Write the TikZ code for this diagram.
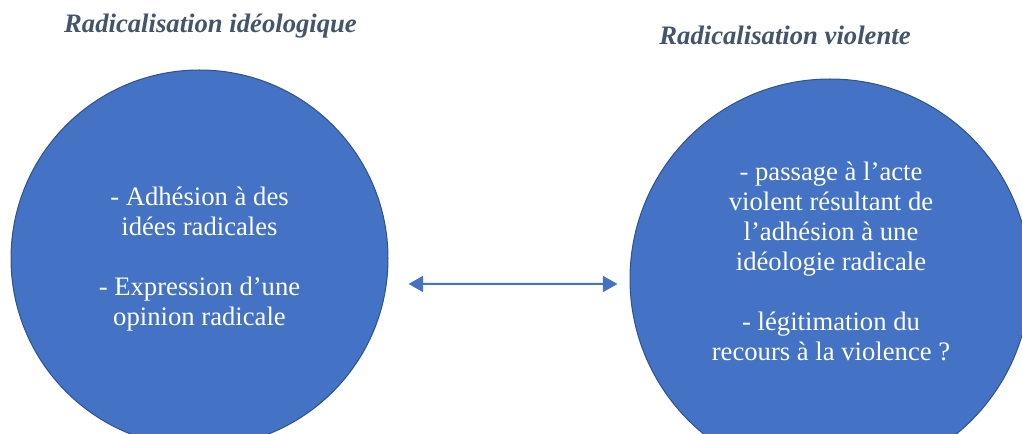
\documentclass[tikz,border=0pt]{standalone}
\usepackage{fontspec}
\setmainfont{Liberation Serif}
\usetikzlibrary{arrows.meta}
\definecolor{circblue}{HTML}{4472C4}
\definecolor{circedge}{HTML}{2F528F}
\definecolor{titlegray}{HTML}{44546A}
\tikzset{
  bubble/.style={circle, fill=circblue, draw=circedge, line width=0.75pt, inner sep=0pt},
  bubbletext/.style={text=white, align=center, inner sep=0pt, font=\fontsize{20}{22.5}\selectfont},
  heading/.style={text=titlegray, inner sep=0pt, anchor=base, font=\fontsize{20}{24}\selectfont\bfseries\itshape},
  link/.style={draw=circblue, line width=1.5pt, {Triangle[length=11pt,width=12pt]}-{Triangle[length=11pt,width=12pt]}}
}

\begin{document}
\begin{tikzpicture}[x=0.75pt,y=-0.75pt]
\clip (0,0) rectangle (1022,434);
\node[heading] (Lt) at (210.5,33) {Radicalisation idéologique};
\node[heading] (Rt) at (785,45) {Radicalisation violente};
\node[bubble, minimum size=282.75pt] (L) at (199.5,258.5) {};
\node[bubble, minimum size=300pt] (R) at (830,279) {};
\node[bubbletext] (Ltext) at (199.5,259.5) {- Adhésion à des\\idées radicales\\[22.5pt]- Expression d’une\\opinion radicale};
\node[bubbletext] (Rtext) at (831,261) {- passage à l’acte\\violent résultant de\\l’adhésion à une\\idéologie radicale\\[22.5pt]- légitimation du\\recours à la violence ?};
\draw[link, shorten <=15pt, shorten >=9pt] ([yshift=-19.1pt]L.east) -- ([yshift=-3.75pt]R.west);
\end{tikzpicture}
\end{document}
